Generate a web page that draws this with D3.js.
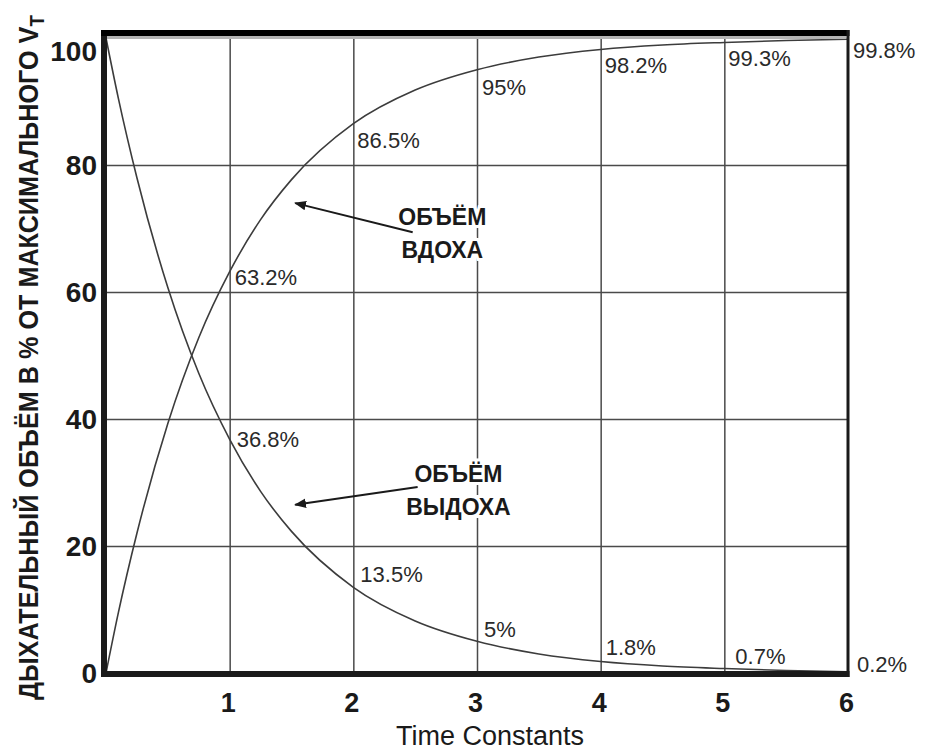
<!DOCTYPE html>
<html>
<head>
<meta charset="utf-8">
<script src="https://cdn.jsdelivr.net/npm/d3@7"></script>
<style>
  body { margin: 0; background: #fff; }
  svg { display: block; font-family: "Liberation Sans", Arial, sans-serif; }
</style>
</head>
<body>
<div id="chart"></div>
<script>
// values
const timeConst = [0, 0.1, 0.25, 0.5, 0.75, 1, 1.25, 1.5, 2, 2.5, 3, 3.5, 4, 4.5, 5, 5.5, 6];
const inhale = [0, 9.5, 22, 39.3, 52.8, 63.2, 71.4, 77.7, 86.5, 91.8, 95, 97, 98.2, 98.9, 99.3, 99.6, 99.8];
const exhale = [100, 90.5, 78, 60.7, 47.2, 36.8, 28.6, 22.3, 13.5, 8.2, 5, 3, 1.8, 1.1, 0.7, 0.4, 0.2];

const markT = [1, 2, 3, 4, 5, 6];
const inhaleMarks = [63.2, 86.5, 95, 98.2, 99.3, 99.8];
const exhaleMarks = [36.8, 13.5, 5, 1.8, 0.7, 0.2];

const xTicks = [1, 2, 3, 4, 5, 6];
const yTicks = [0, 20, 40, 60, 80, 100];

const yTitle = "ДЫХАТЕЛЬНЫЙ ОБЪЁМ В % ОТ МАКСИМАЛЬНОГО V";
const xTitle = "Time Constants";
const notes = [
  { lines: ["ОБЪЁМ", "ВДОХА"], t: 2.72, v: 70.5, from: [2.48, 69.4], to: [1.53, 74.0] },
  { lines: ["ОБЪЁМ", "ВЫДОХА"], t: 2.85, v: 30.1, from: [2.52, 29.3], to: [1.53, 26.5] },
];

const width = 925;
const height = 750;
const margin = { top: 38, right: 77, bottom: 77, left: 106 };

const svg = d3.select('#chart')
  .append('svg')
  .attr('width', width)
  .attr('height', height);

const x = d3.scaleLinear()
  .domain([0, 6])
  .range([margin.left, width - margin.right]);

const y = d3.scaleLinear()
  .domain([0, 100])
  .range([height - margin.bottom, margin.top]);

const dark = "#1a1a1a";
const grid = "#4a4a4a";

// grid
svg.append("g")
  .attr("transform", `translate(${margin.left},0)`)
  .call(d3.axisLeft(y).tickValues([20, 40, 60, 80]).tickSize(-(x(6) - x(0))).tickFormat(""))
  .call(g => g.select(".domain").remove())
  .call(g => g.selectAll("line").attr("stroke", grid).attr("stroke-width", 1.5));

svg.append("g")
  .attr("transform", `translate(0,${y(0)})`)
  .call(d3.axisBottom(x).tickValues([1, 2, 3, 4, 5]).tickSize(-(y(0) - y(100) + 4)).tickFormat(""))
  .call(g => g.select(".domain").remove())
  .call(g => g.selectAll("line").attr("stroke", grid).attr("stroke-width", 1.5));

// curves
const line = d3.line()
  .x((d, i) => x(timeConst[i]))
  .y(d => y(d))
  .curve(d3.curveMonotoneX);

[inhale, exhale].forEach(s => {
  svg.append("path")
    .attr("d", line(s))
    .attr("fill", "none")
    .attr("stroke", "#3c3c3c")
    .attr("stroke-width", 1.6);
});

// frame
const fx0 = x(0) - 5, fx1 = x(6) + 1.5, fy0 = y(100) - 8, fy1 = y(0) + 4;
const frame = svg.append("g");
frame.append("rect").attr("x", fx0).attr("y", fy0).attr("width", 6).attr("height", fy1 - fy0).attr("fill", dark);
frame.append("rect").attr("x", fx0).attr("y", fy1 - 6).attr("width", fx1 - fx0).attr("height", 6).attr("fill", dark);
frame.append("rect").attr("x", fx0).attr("y", fy0).attr("width", fx1 - fx0).attr("height", 6).attr("fill", "#000");
frame.append("rect").attr("x", fx0 + 6).attr("y", fy0 + 6).attr("width", fx1 - fx0 - 9).attr("height", 3).attr("fill", "#b4b4b4");
frame.append("rect").attr("x", fx1 - 3).attr("y", fy0).attr("width", 3).attr("height", fy1 - fy0).attr("fill", dark);

// percent labels
const inDy = [13, 24, 25, 24, 24, 19];
const inDx = [5, 4, 5, 4, 4, 5];
const exDy = [8, -5, -4, -7, -5, 0];
const exDx = [7, 7, 7, 5, 11, 9];

svg.append("g")
  .selectAll("text")
  .data(inhaleMarks)
  .enter()
  .append("text")
  .attr("x", (d, i) => x(markT[i]) + inDx[i])
  .attr("y", (d, i) => y(d) + inDy[i])
  .attr("font-size", "22px")
  .attr("fill", "#2a2a2a")
  .text(d => d + "%");

svg.append("g")
  .selectAll("text")
  .data(exhaleMarks)
  .enter()
  .append("text")
  .attr("x", (d, i) => x(markT[i]) + exDx[i])
  .attr("y", (d, i) => y(d) + exDy[i])
  .attr("font-size", "22px")
  .attr("fill", "#2a2a2a")
  .text(d => d + "%");

// annotations with arrows
svg.append("defs").append("marker")
  .attr("id", "arrow")
  .attr("viewBox", "0 0 10 10")
  .attr("refX", 9).attr("refY", 5)
  .attr("markerWidth", 6).attr("markerHeight", 6)
  .attr("orient", "auto")
  .append("path")
  .attr("d", "M0,1L10,5L0,9Z")
  .attr("fill", dark);

notes.forEach(n => {
  svg.append("line")
    .attr("x1", x(n.from[0])).attr("y1", y(n.from[1]))
    .attr("x2", x(n.to[0])).attr("y2", y(n.to[1]))
    .attr("stroke", dark)
    .attr("stroke-width", 2)
    .attr("marker-end", "url(#arrow)");
  svg.append("g")
    .selectAll("text")
    .data(n.lines)
    .enter()
    .append("text")
    .attr("x", x(n.t))
    .attr("y", (d, i) => y(n.v) + i * 33)
    .attr("text-anchor", "middle")
    .attr("font-size", "23px")
    .attr("font-weight", "bold")
    .attr("fill", dark)
    .attr("stroke", "#fff")
    .attr("stroke-width", 6)
    .attr("paint-order", "stroke")
    .text(d => d);
});

// axes
function yAxis(g) {
  g.attr("transform", `translate(${margin.left - 9},0)`)
    .call(d3.axisLeft(y).tickValues(yTicks).tickSize(0).tickPadding(0))
    .call(g => g.select(".domain").remove())
    .attr("font-size", "28px")
    .attr("font-weight", "bold")
    .attr("font-family", "Liberation Sans, Arial, sans-serif");
  g.selectAll("text").attr("fill", dark)
    .attr("dy", d => d === 100 ? "0.82em" : "0.35em");
}

function xAxis(g) {
  g.attr("transform", `translate(-2,${y(0)})`)
    .call(d3.axisBottom(x).tickValues(xTicks).tickFormat(d3.format("d")).tickSize(0).tickPadding(20))
    .call(g => g.select(".domain").remove())
    .attr("font-size", "27px")
    .attr("font-weight", "bold")
    .attr("font-family", "Liberation Sans, Arial, sans-serif");
  g.selectAll("text").attr("fill", dark);
}

svg.append("g").call(xAxis);
svg.append("g").call(yAxis);

svg.append("text")
  .attr("x", 490)
  .attr("y", 745)
  .attr("text-anchor", "middle")
  .attr("font-size", "27px")
  .attr("fill", dark)
  .text(xTitle);

// rotated y title, squeezed to fit the height
const yt = svg.append("text")
  .attr("font-size", "27px")
  .attr("font-weight", "bold")
  .attr("fill", dark);
yt.append("tspan").text(yTitle);
yt.append("tspan").attr("font-size", "20px").attr("dy", 6).text("T");
const natural = yt.node().getComputedTextLength();
const target = 685;
yt.attr("transform", `translate(38,700) rotate(-90) scale(${target / natural},1)`);
</script>
</body>
</html>
